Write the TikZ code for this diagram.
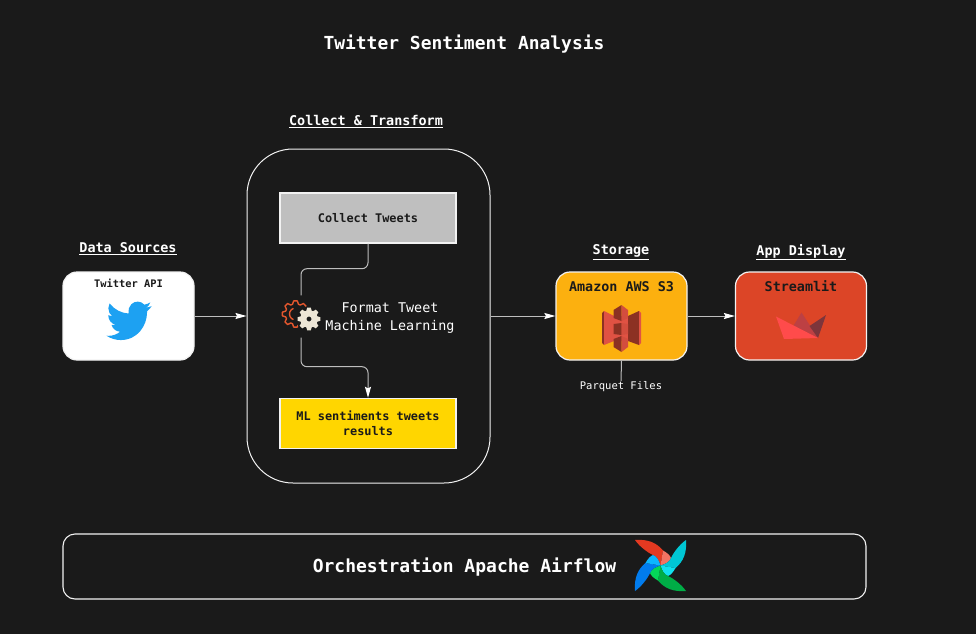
\documentclass[tikz,border=0pt]{standalone}
\usepackage{fontspec}
\setmonofont{DejaVu Sans Mono}
\usepackage{tikz}
\usetikzlibrary{arrows.meta,svg.path}
\definecolor{bgdark}{HTML}{1A1A1A}
\definecolor{lineg}{HTML}{BEBEBE}
\definecolor{edgew}{HTML}{F2F2F2}
\definecolor{boxgray}{HTML}{BFBFBF}
\definecolor{boxyellow}{HTML}{FFD600}
\definecolor{boxamber}{HTML}{FCB00F}
\definecolor{boxred}{HTML}{DC4527}
\definecolor{birdblue}{HTML}{1DA1F2}
\definecolor{gearorange}{HTML}{E4572E}
\definecolor{gearcream}{HTML}{EDE6D6}
\definecolor{awslight}{HTML}{E05243}
\definecolor{awsdark}{HTML}{8C3123}
\definecolor{boatmid}{HTML}{BD4043}
\definecolor{boatdark}{HTML}{7D353B}
\definecolor{boatfront}{HTML}{FF4B4B}
\definecolor{windred}{HTML}{E43921}
\definecolor{windsalmon}{HTML}{F37363}
\definecolor{windteal}{HTML}{00C7D4}
\definecolor{windcyan}{HTML}{11E1EE}
\definecolor{windgreen}{HTML}{00AD46}
\definecolor{windlime}{HTML}{04D659}
\definecolor{windblue}{HTML}{017CEE}
\definecolor{windsky}{HTML}{0CB6FF}
\newcommand{\gearshape}[3]{% outer radius, inner radius, half tooth angle
  (0-#3-9:#2) \foreach \a in {0,45,...,315} {
    -- (\a-#3-9:#2) -- (\a-#3:#1) -- (\a+#3:#1) -- (\a+#3+9:#2) } -- cycle}

\begin{document}
\begin{tikzpicture}[x=1pt, y=-1pt,
    box/.style={draw=edgew, line width=1.4pt, inner sep=0pt, text=bgdark,
                font=\ttfamily\bfseries\fontsize{11.9}{15}\selectfont, align=center},
    card/.style={draw=edgew, line width=1.2pt, rounded corners=14pt, inner sep=0pt,
                 minimum width=131pt, minimum height=88pt},
    head/.style={text=white, font=\ttfamily\bfseries\fontsize{13.45}{16}\selectfont, inner sep=0pt},
    cardtitle/.style={text=bgdark, font=\ttfamily\bfseries\fontsize{13.4}{16}\selectfont, inner sep=0pt},
    arr/.style={-{Stealth[length=11pt,width=6pt,inset=1.5pt,color=white]}, lineg, line width=1pt},
    conn/.style={lineg, line width=1pt, rounded corners=6pt},
]

\fill[bgdark] (0,0) rectangle (976,634);

% ===== Title and headings =====
\node[head, font=\ttfamily\bfseries\fontsize{17.95}{20}\selectfont] at (464,44.5) (title) {Twitter Sentiment Analysis};
\node[head] at (366,121.5) (hcollect) {\underline{Collect \& Transform}};
\node[head] at (128,249) (hsource) {\underline{Data Sources}};
\node[head] at (621,252) (hstore) {\underline{Storage}};
\node[head] at (801,252) (happ) {\underline{App Display}};

% ===== Cards =====
\node[draw=edgew, line width=1pt, rounded corners=46pt, minimum width=243pt, minimum height=334pt,
      inner sep=0pt] at (368.5,316) (transform) {};
\node[card, fill=white] at (128.5,316) (twitter) {};
\node[card, fill=boxamber] at (621.5,316) (s3) {};
\node[card, fill=boxred] at (801,316) (streamlit) {};
\node[text=bgdark, font=\ttfamily\bfseries\fontsize{10.4}{12}\selectfont, inner sep=0pt] at (128.5,283.5) (twlbl) {Twitter API};
\node[cardtitle] at (621.5,286.5) (s3lbl) {Amazon AWS S3};
\node[cardtitle] at (801,286.5) (stlbl) {Streamlit};

% ===== Inner boxes =====
\node[box, fill=boxgray, minimum width=176pt, minimum height=50pt] at (368,218) (collect) {Collect Tweets};
\node[box, fill=boxyellow, minimum width=176pt, minimum height=50pt] at (368,423.5) (mlres) {ML sentiments tweets\\results};
\node[inner sep=0pt, minimum size=42pt] at (301,316.5) (gears) {};
\node[text=white, font=\ttfamily\fontsize{13.4}{18}\selectfont, align=center, inner sep=0pt] at (390,318.5) (format)
     {Format Tweet\\Machine Learning};
\node[text=white, font=\ttfamily\fontsize{10.5}{12}\selectfont, inner sep=0pt] at (621,386.5) (parquet) {Parquet Files};

% ===== Orchestration =====
\node[draw=edgew, line width=1.1pt, rounded corners=12pt, minimum width=803pt, minimum height=65pt,
      inner sep=0pt] at (464.5,566.5) (orch) {};
\node[head, font=\ttfamily\bfseries\fontsize{18}{20}\selectfont] at (464.5,567) (orchlbl) {Orchestration Apache Airflow};

% ===== Arrows =====
\draw[arr] (twitter) -- (transform.west);
\draw[arr] (transform.east) -- (s3.west);
\draw[arr] (s3) -- (streamlit);
\draw[lineg, line width=1pt] (s3.south) -- (parquet.north);
\draw[conn] (collect.south) -- ++(0,25) -| (gears.north);
\draw[conn, -{Stealth[length=11pt,width=6pt,inset=1.5pt,color=white]}] (gears.south) -- ++(0,29) -| (mlres.north);

% ===== Icons: bird =====
\begin{scope}[shift={(106.5,297.2)}, xscale=1.88, yscale=-1.97]
\fill[birdblue] svg {M 23.953 4.57 a 10 10 0 0 1 -2.825 0.775 a 4.958 4.958 0 0 0 2.163 -2.723
  c -0.951 0.555 -2.005 0.959 -3.127 1.184 a 4.92 4.92 0 0 0 -8.384 4.482
  C 7.69 8.095 4.067 6.13 1.64 3.162 a 4.822 4.822 0 0 0 -0.666 2.475
  c 0 1.71 0.87 3.213 2.188 4.096 a 4.904 4.904 0 0 1 -2.228 -0.616 v 0.06
  a 4.923 4.923 0 0 0 3.946 4.827 a 4.996 4.996 0 0 1 -2.212 0.085
  a 4.936 4.936 0 0 0 4.604 3.417 a 9.867 9.867 0 0 1 -6.102 2.105
  c -0.39 0 -0.779 -0.023 -1.17 -0.067 a 13.995 13.995 0 0 0 7.557 2.209
  c 9.053 0 13.998 -7.496 13.998 -13.985 c 0 -0.21 0 -0.42 -0.015 -0.63
  A 9.935 9.935 0 0 0 24 4.59 z};
\end{scope}

% ===== Icons: gears =====
\begin{scope}[shift={(295.5,314)}]
\draw[gearorange, line width=1.4pt, line join=round] \gearshape{13.2}{10.2}{8};
\draw[gearorange, line width=1.4pt] (110:6) arc[start angle=110, end angle=250, radius=6];
\end{scope}
\begin{scope}[shift={(309,319)}]
\fill[bgdark] (0,0) circle (13);
\fill[gearcream, even odd rule] \gearshape{11.5}{8.7}{9} (0,0) circle (2.6);
\end{scope}

% ===== Icons: S3 =====
\fill[awsdark] (602,313) -- (604,311) -- (604,345) -- (602,343) -- cycle;
\fill[awslight] (604,311) -- (614,316) -- (628,316) -- (628,341) -- (614,341) -- (604,345) -- cycle;
\fill[awsdark] (628,316) -- (639,311) -- (639,345) -- (628,341) -- cycle;
\fill[awslight] (639,311) -- (641,313) -- (641,343) -- (639,345) -- cycle;
\fill[awsdark] (613.5,310) -- (621.5,305) -- (621.5,321) -- (613.5,318) -- cycle;
\fill[awslight!85!awsdark] (621.5,305) -- (628,310) -- (628,318) -- (621.5,321) -- cycle;
\fill[awsdark] (613.5,324) -- (621.5,323) -- (621.5,335) -- (613.5,334) -- cycle;
\fill[awslight!85!awsdark] (621.5,323) -- (628,324) -- (628,334) -- (621.5,335) -- cycle;
\fill[awsdark] (613.5,339) -- (621.5,336) -- (621.5,352) -- (613.5,347) -- cycle;
\fill[awslight!85!awsdark] (621.5,336) -- (628,339) -- (628,347) -- (621.5,352) -- cycle;

% ===== Icons: boat =====
\fill[boatmid] (793,326.5) -- (801.5,312.5) -- (818,338) -- cycle;
\fill[boatdark] (809.5,326) -- (826,315) -- (818,338) -- cycle;
\fill[boatfront] (776,316.5) -- (818,338) -- (784,339) -- cycle;

% ===== Icons: pinwheel =====
\foreach \rot/\cmain/\csub in {0/windred/windsalmon, -90/windteal/windcyan, -180/windgreen/windlime, -270/windblue/windsky} {
  \begin{scope}[shift={(660.5,565.5)}, rotate=\rot]
  \fill[\cmain] (-25.5,-25.5) .. controls (-13,-26.5) and (-4,-23) .. (2.5,-15)
      -- (0,0) .. controls (-1.5,-5) and (-3.5,-9) .. (-7.5,-10.5)
      .. controls (-13,-13) and (-21,-19) .. (-25.5,-25.5) -- cycle;
  \fill[\csub] (2.5,-15) .. controls (6,-13) and (9.5,-10.5) .. (10.5,-7.5)
      .. controls (9,-3.5) and (5,-1.5) .. (0,0) -- cycle;
  \end{scope}
}

\end{tikzpicture}
\end{document}
